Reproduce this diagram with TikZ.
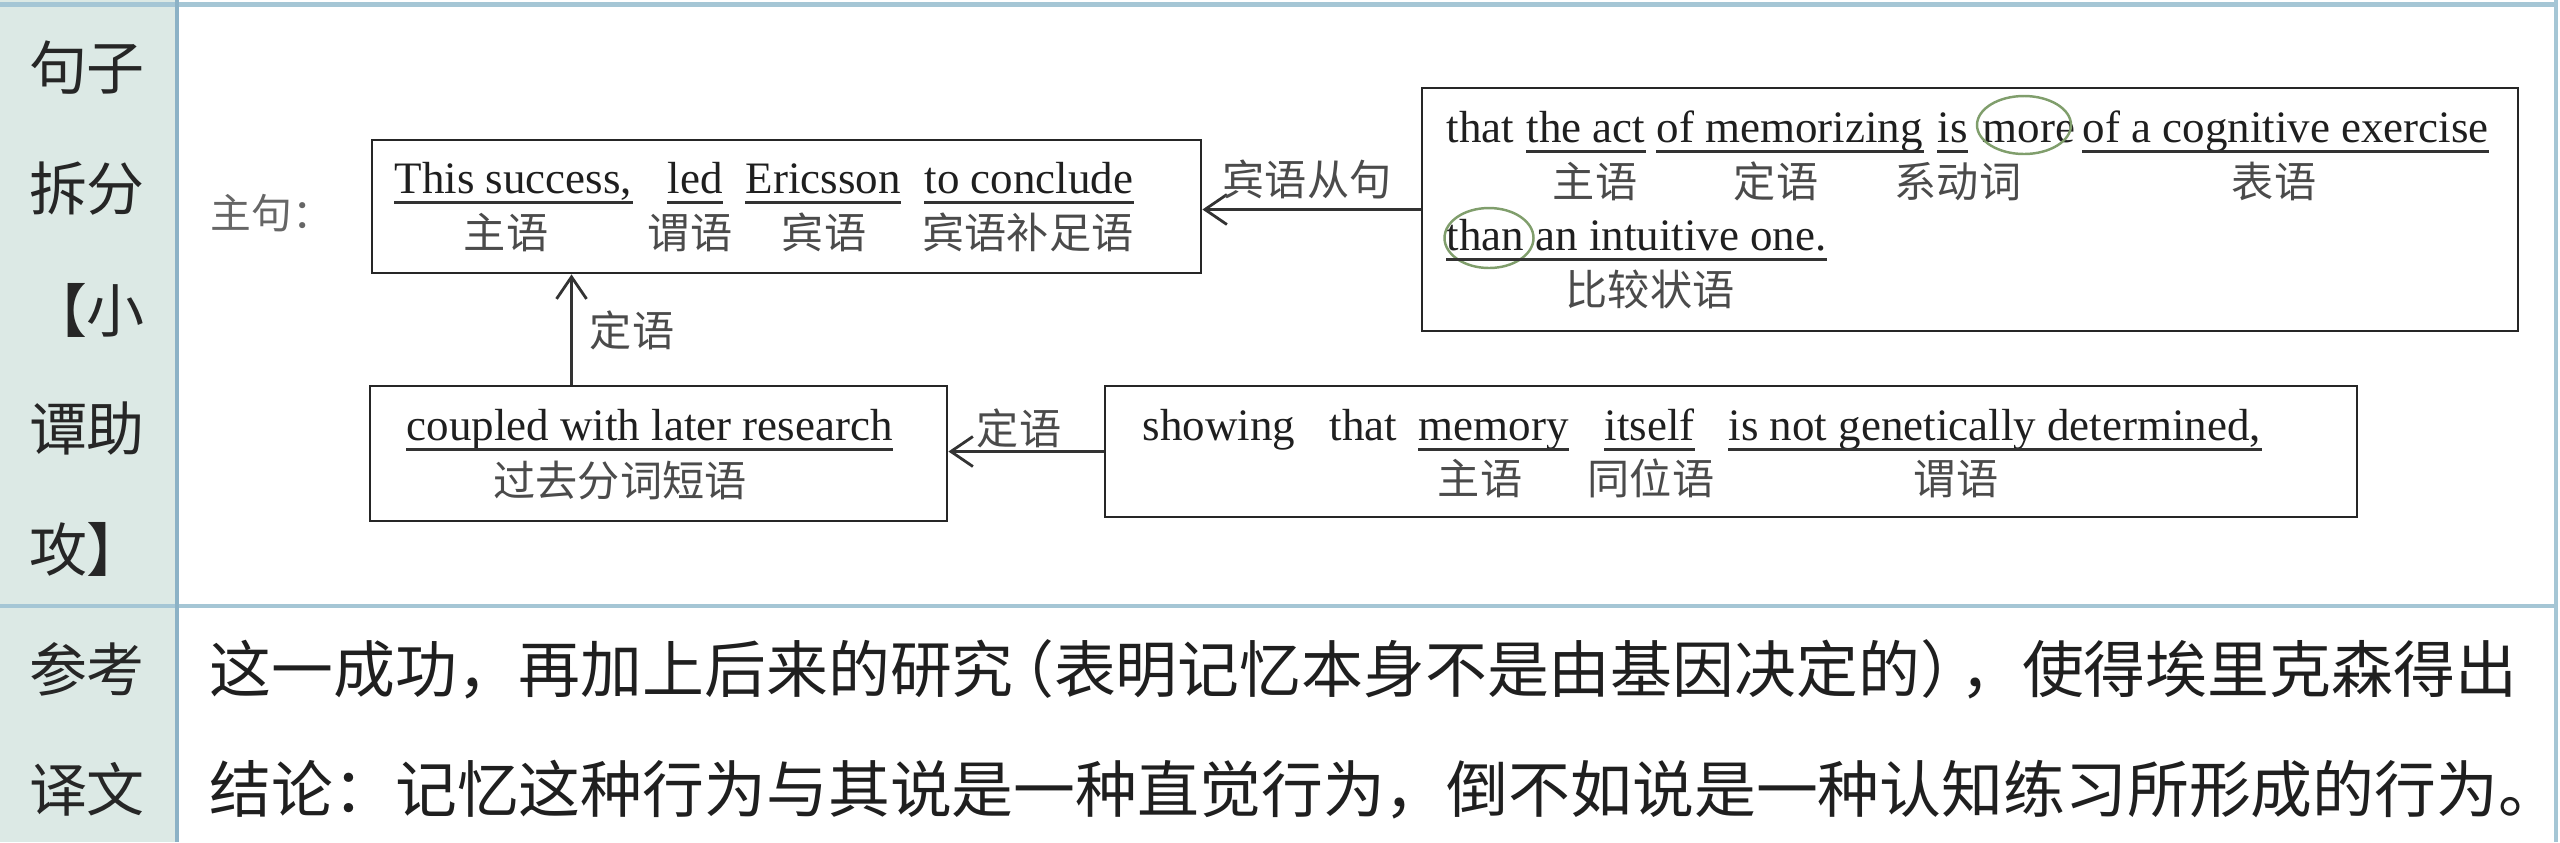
\documentclass[tikz,border=0pt]{standalone}
\usepackage{fontspec}
\setmainfont{Liberation Serif}
\newfontfamily\cjk{Noto Sans CJK SC}
\usetikzlibrary{arrows.meta, positioning, calc, shapes.geometric}
\definecolor{gridblue}{RGB}{165,198,213}
\definecolor{gridline}{RGB}{140,178,198}
\definecolor{sidefill}{RGB}{220,233,229}
\definecolor{ringgreen}{RGB}{128,158,108}
\definecolor{labgray}{RGB}{75,75,75}

\begin{document}
\begin{tikzpicture}[box/.style={draw=black!85, line width=0.8pt, inner sep=0pt}, wd/.style={anchor=base west, inner sep=0pt, text depth=0.09cm, font=\fontsize{12.8pt}{15pt}\selectfont, text=black!88}, lab/.style={inner sep=0pt, text height=0.37cm, text depth=0.05cm, font=\fontsize{12pt}{14pt}\selectfont\cjk, text=labgray}, uline/.style={line width=0.75pt, black!80}, arr/.style={-{Straight Barb[length=2.2mm, width=3mm]}, line width=0.8pt, black!80}, ring/.style={ellipse, draw=ringgreen, line width=0.7pt, inner sep=0pt}, side/.style={inner sep=0pt, text height=0.51cm, text depth=0.07cm, font=\fontsize{16.5pt}{18pt}\selectfont\cjk, text=black!85}, trans/.style={anchor=west, inner sep=0pt, text height=0.545cm, text depth=0.075cm, font=\fontsize{17.6pt}{20pt}\selectfont\cjk, text=black!88}]
\useasboundingbox (0,0) rectangle (25.6,-8.42);
\fill[sidefill] (0,0) rectangle (1.77,-8.42);
\draw[gridblue, line width=1.4pt] (0,-0.045) -- (25.56,-0.045);
\draw[gridblue, line width=1.2pt] (0,-6.06) -- (25.56,-6.06);
\draw[gridline, line width=1.2pt] (1.77,0) -- (1.77,-8.42);
\draw[gridblue, line width=1.4pt] (25.56,0) -- (25.56,-8.42);
\node[side] (s1) at (0.87,-0.67) {句子};
\node[side] (s2) at (0.87,-1.88) {拆分};
\node[side] (s3) at (0.87,-3.10) {【小};
\node[side] (s4) at (0.87,-4.28) {谭助};
\node[side] (s5) at (0.87,-5.49) {攻】};
\node[side] (s6) at (0.87,-6.69) {参考};
\node[side] (s7) at (0.87,-7.89) {译文};
\node[lab, anchor=west, font=\fontsize{11.6pt}{13pt}\selectfont\cjk, text=black!60] (zhuju) at (2.10,-2.12) {主句：};
\node[box, minimum width=8.29cm, minimum height=1.33cm] (b1) at (7.865,-2.065) {};
\node[box, minimum width=5.77cm, minimum height=1.35cm] (b2) at (6.585,-4.535) {};
\node[box, minimum width=10.96cm, minimum height=2.43cm] (b3) at (19.70,-2.095) {};
\node[box, minimum width=12.52cm, minimum height=1.31cm] (b4) at (17.31,-4.515) {};
\node[wd] (w11) at (3.94,-1.93) {This success,};
\node[wd] (w12) at (6.67,-1.93) {led};
\node[wd] (w13) at (7.45,-1.93) {Ericsson};
\node[wd] (w14) at (9.24,-1.93) {to conclude};
\node[lab] (l11) at (5.06,-2.32) {主语};
\node[lab] (l12) at (6.90,-2.32) {谓语};
\node[lab] (l13) at (8.24,-2.32) {宾语};
\node[lab] (l14) at (10.28,-2.32) {宾语补足语};
\node[wd] (w31) at (14.46,-1.42) {that};
\node[wd] (w32) at (15.26,-1.42) {the act};
\node[wd] (w33) at (16.56,-1.42) {of memorizing};
\node[wd] (w34) at (19.37,-1.42) {is};
\node[wd] (w35) at (19.82,-1.42) {more};
\node[wd] (w36) at (20.82,-1.42) {of a cognitive exercise};
\node[wd] (w37) at (14.46,-2.50) {than an intuitive one.};
\node[lab] (l31) at (15.95,-1.81) {主语};
\node[lab] (l32) at (17.76,-1.81) {定语};
\node[lab] (l33) at (19.58,-1.81) {系动词};
\node[lab] (l34) at (22.74,-1.81) {表语};
\node[lab] (l35) at (16.50,-2.89) {比较状语};
\node[ring, minimum width=0.94cm, minimum height=0.58cm] (rmore) at (20.24,-1.25) {};
\node[ring, minimum width=0.89cm, minimum height=0.60cm] (rthan) at (14.89,-2.38) {};
\node[wd] (w21) at (4.06,-4.40) {coupled with later research};
\node[lab] (l21) at (6.20,-4.80) {过去分词短语};
\node[wd] (w41) at (11.42,-4.40) {showing};
\node[wd] (w42) at (13.29,-4.40) {that};
\node[wd] (w43) at (14.18,-4.40) {memory};
\node[wd] (w44) at (16.04,-4.40) {itself};
\node[wd] (w45) at (17.28,-4.40) {is not genetically determined,};
\node[lab] (l41) at (14.80,-4.78) {主语};
\node[lab] (l42) at (16.51,-4.78) {同位语};
\node[lab] (l43) at (19.56,-4.78) {谓语};
\foreach \w in {w11,w12,w13,w14,w21,w32,w33,w34,w36,w37,w43,w44,w45}
  \draw[uline] (\w.south west) -- (\w.south east);
\coordinate (up) at ($(b2.north west)!0.35!(b2.north east)$);
\draw[arr] (b3.west) -- (b3.west -| b1.east);
\draw[arr] (up) -- (up |- b1.south);
\draw[arr] (b4.west) -- (b4.west -| b2.east);
\node[lab] (a1) at (13.07,-1.79) {宾语从句};
\node[lab] (a2) at (6.32,-3.30) {定语};
\node[lab] (a3) at (10.19,-4.28) {定语};
\node[trans] (t1) at (2.09,-6.69) {这一成功，再加上后来的研究\kern-0.35em（表明记忆本身不是由基因决定的）\kern-0.35em，使得埃里克森得出};
\node[trans] (t2) at (2.09,-7.89) {结论：记忆这种行为与其说是一种直觉行为，倒不如说是一种认知练习所形成的行为。};
\end{tikzpicture}
\end{document}
